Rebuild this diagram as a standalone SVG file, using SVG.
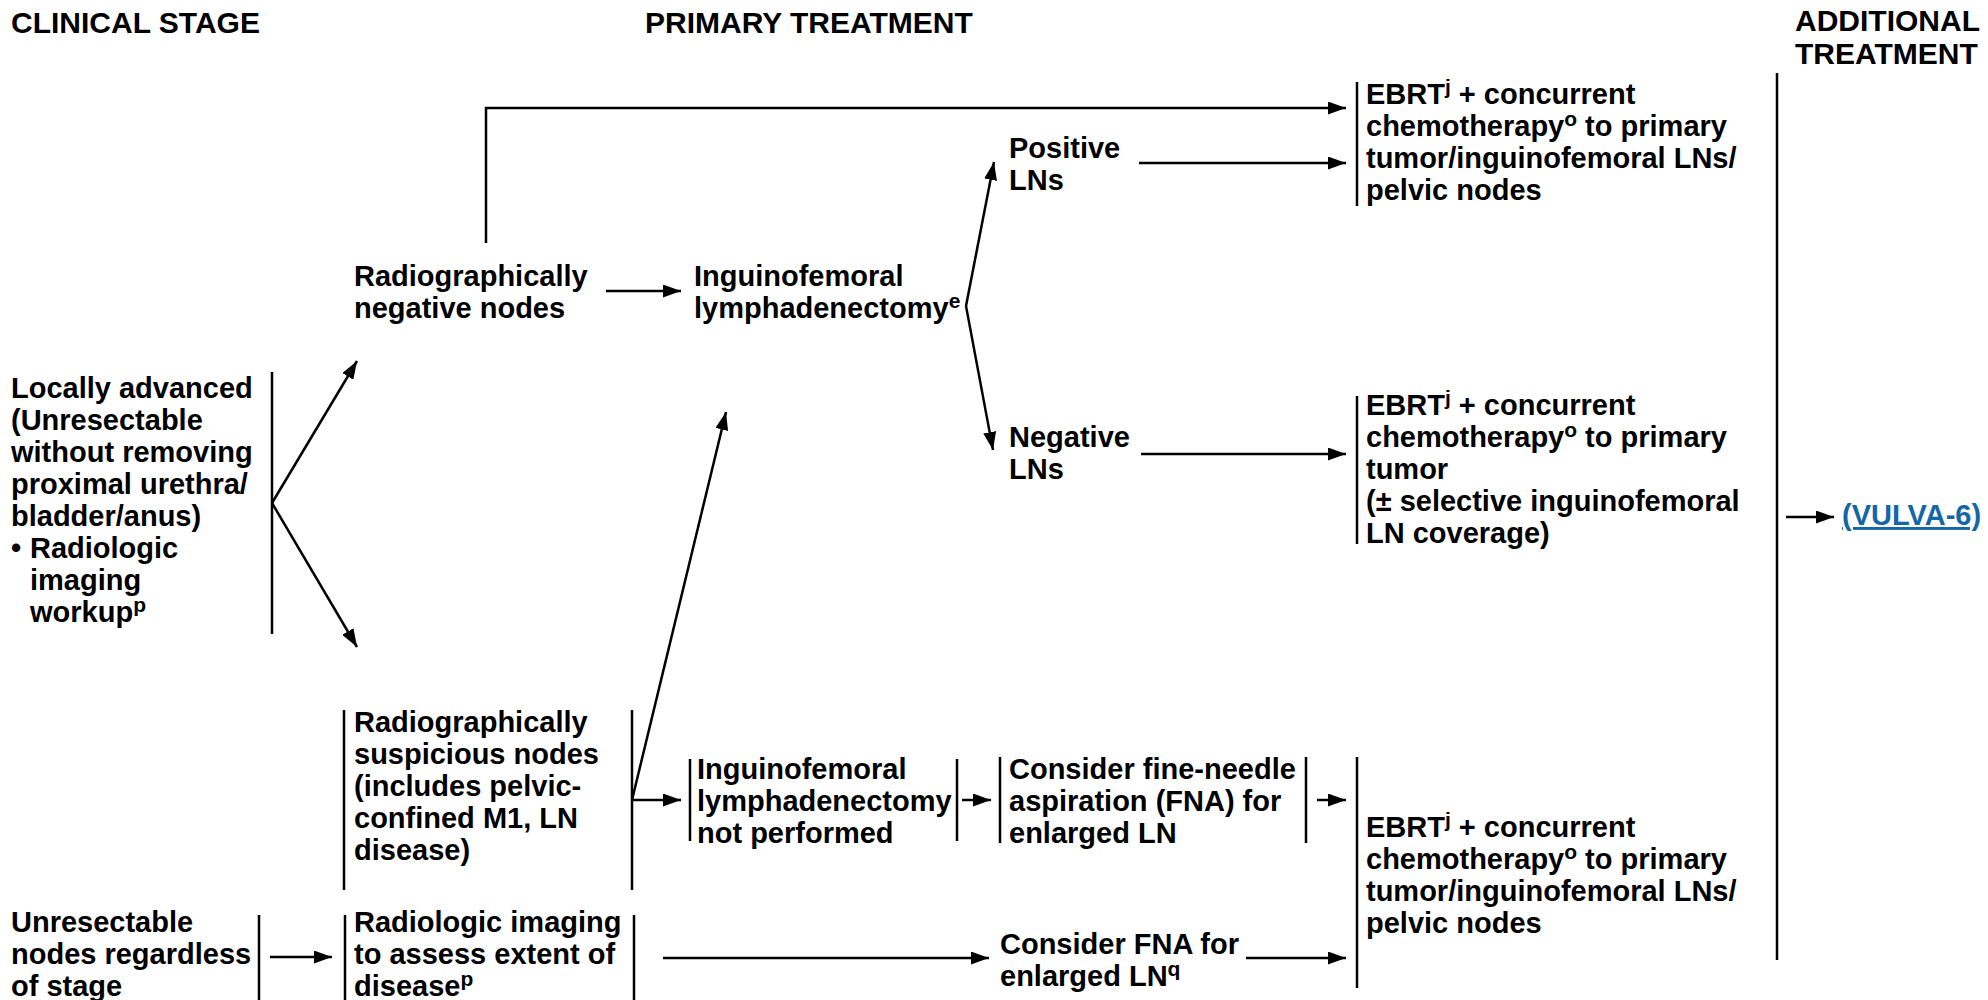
<svg xmlns="http://www.w3.org/2000/svg" width="1988" height="1000" viewBox="0 0 1988 1000">
<style>
.t{font-family:"Liberation Sans",Arial,Helvetica,sans-serif;font-weight:bold;font-size:29px;fill:#000}
.h{font-size:30px}
.s{font-size:21px}
.bar{stroke:#000;stroke-width:2.5;fill:none}
.c{stroke:#000;stroke-width:2.5;fill:none}
.a{marker-end:url(#ah)}
.link{fill:#1466a6;text-decoration:underline}
</style>
<defs>
<marker id="ah" markerUnits="userSpaceOnUse" markerWidth="19" markerHeight="13" refX="18" refY="6.5" orient="auto">
<path d="M0,0 L18,6.5 L0,13 z" fill="#000"/>
</marker>
</defs>
<rect width="1988" height="1000" fill="#fff"/>

<g id="hdr-clinical"><text class="t h" x="11" y="33">CLINICAL STAGE</text></g>
<g id="hdr-primary"><text class="t h" x="645" y="33">PRIMARY TREATMENT</text></g>
<g id="hdr-additional"><text class="t h" x="1795" y="31">ADDITIONAL</text><text class="t h" x="1795" y="64">TREATMENT</text></g>

<g id="n-locally">
<text class="t" x="11" y="398">Locally advanced</text>
<text class="t" x="11" y="430">(Unresectable</text>
<text class="t" x="11" y="462">without removing</text>
<text class="t" x="11" y="494">proximal urethra/</text>
<text class="t" x="11" y="526">bladder/anus)</text>
<text class="t" x="11" y="558">•</text>
<text class="t" x="30" y="558">Radiologic</text>
<text class="t" x="30" y="590">imaging</text>
<text class="t" x="30" y="622">workup<tspan class="s" dy="-10">p</tspan></text>
<line class="bar" x1="272" y1="372" x2="272" y2="634"/>
</g>

<g id="n-radneg">
<text class="t" x="354" y="286">Radiographically</text>
<text class="t" x="354" y="318">negative nodes</text>
</g>

<g id="n-ingui">
<text class="t" x="694" y="286">Inguinofemoral</text>
<text class="t" x="694" y="318">lymphadenectomy<tspan class="s" dy="-10">e</tspan></text>
</g>

<g id="n-pos">
<text class="t" x="1009" y="158">Positive</text>
<text class="t" x="1009" y="190">LNs</text>
</g>

<g id="n-neg">
<text class="t" x="1009" y="447">Negative</text>
<text class="t" x="1009" y="479">LNs</text>
</g>

<g id="n-ebrt1">
<line class="bar" x1="1357" y1="82" x2="1357" y2="206"/>
<text class="t" x="1366" y="104">EBRT<tspan class="s" dy="-10">j</tspan><tspan dy="10"> + concurrent</tspan></text>
<text class="t" x="1366" y="136">chemotherapy<tspan class="s" dy="-10">o</tspan><tspan dy="10"> to primary</tspan></text>
<text class="t" x="1366" y="168">tumor/inguinofemoral LNs/</text>
<text class="t" x="1366" y="200">pelvic nodes</text>
</g>

<g id="n-ebrt2">
<line class="bar" x1="1357" y1="396" x2="1357" y2="544"/>
<text class="t" x="1366" y="415">EBRT<tspan class="s" dy="-10">j</tspan><tspan dy="10"> + concurrent</tspan></text>
<text class="t" x="1366" y="447">chemotherapy<tspan class="s" dy="-10">o</tspan><tspan dy="10"> to primary</tspan></text>
<text class="t" x="1366" y="479">tumor</text>
<text class="t" x="1366" y="511">(± selective inguinofemoral</text>
<text class="t" x="1366" y="543">LN coverage)</text>
</g>

<g id="n-additional">
<line class="bar" x1="1777" y1="73" x2="1777" y2="960"/>
</g>

<g id="n-vulva">
<text class="t link" x="1842" y="525">(VULVA-6)</text>
</g>

<g id="n-radsusp">
<line class="bar" x1="344" y1="710" x2="344" y2="890"/>
<line class="bar" x1="632" y1="710" x2="632" y2="890"/>
<text class="t" x="354" y="732">Radiographically</text>
<text class="t" x="354" y="764">suspicious nodes</text>
<text class="t" x="354" y="796">(includes pelvic-</text>
<text class="t" x="354" y="828">confined M1, LN</text>
<text class="t" x="354" y="860">disease)</text>
</g>

<g id="n-notperf">
<line class="bar" x1="690" y1="759" x2="690" y2="841"/>
<line class="bar" x1="957" y1="759" x2="957" y2="841"/>
<text class="t" x="697" y="779">Inguinofemoral</text>
<text class="t" x="697" y="811">lymphadenectomy</text>
<text class="t" x="697" y="843">not performed</text>
</g>

<g id="n-fna1">
<line class="bar" x1="1000" y1="757" x2="1000" y2="843"/>
<line class="bar" x1="1306" y1="757" x2="1306" y2="843"/>
<text class="t" x="1009" y="779">Consider fine-needle</text>
<text class="t" x="1009" y="811">aspiration (FNA) for</text>
<text class="t" x="1009" y="843">enlarged LN</text>
</g>

<g id="n-ebrt3">
<line class="bar" x1="1357" y1="757" x2="1357" y2="988"/>
<text class="t" x="1366" y="837">EBRT<tspan class="s" dy="-10">j</tspan><tspan dy="10"> + concurrent</tspan></text>
<text class="t" x="1366" y="869">chemotherapy<tspan class="s" dy="-10">o</tspan><tspan dy="10"> to primary</tspan></text>
<text class="t" x="1366" y="901">tumor/inguinofemoral LNs/</text>
<text class="t" x="1366" y="933">pelvic nodes</text>
</g>

<g id="n-unres">
<text class="t" x="11" y="932">Unresectable</text>
<text class="t" x="11" y="964">nodes regardless</text>
<text class="t" x="11" y="996">of stage</text>
<line class="bar" x1="259" y1="915" x2="259" y2="1000"/>
</g>

<g id="n-radimg">
<line class="bar" x1="345" y1="915" x2="345" y2="1000"/>
<line class="bar" x1="634" y1="915" x2="634" y2="1000"/>
<text class="t" x="354" y="932">Radiologic imaging</text>
<text class="t" x="354" y="964">to assess extent of</text>
<text class="t" x="354" y="996">disease<tspan class="s" dy="-10">p</tspan></text>
</g>

<g id="n-fna2">
<text class="t" x="1000" y="954">Consider FNA for</text>
<text class="t" x="1000" y="986">enlarged LN<tspan class="s" dy="-10">q</tspan></text>
</g>

<g id="connectors">
<polyline class="c a" points="486,243 486,108 1346,108"/>
<line class="c a" x1="1139" y1="163" x2="1346" y2="163"/>
<line class="c a" x1="606" y1="291" x2="681" y2="291"/>
<line class="c a" x1="966" y1="306" x2="994" y2="162"/>
<line class="c a" x1="966" y1="306" x2="993" y2="450"/>
<line class="c a" x1="1141" y1="454" x2="1346" y2="454"/>
<line class="c a" x1="1786" y1="517" x2="1834" y2="517"/>
<line class="c a" x1="272" y1="503" x2="357" y2="361"/>
<line class="c a" x1="272" y1="503" x2="357" y2="647"/>
<line class="c a" x1="632" y1="800" x2="726" y2="412"/>
<line class="c a" x1="632" y1="800" x2="681" y2="800"/>
<line class="c a" x1="962" y1="800" x2="991" y2="800"/>
<line class="c a" x1="1317" y1="800" x2="1346" y2="800"/>
<line class="c a" x1="270" y1="957" x2="332" y2="957"/>
<line class="c a" x1="663" y1="958" x2="989" y2="958"/>
<line class="c a" x1="1246" y1="958" x2="1346" y2="958"/>
</g>
</svg>
